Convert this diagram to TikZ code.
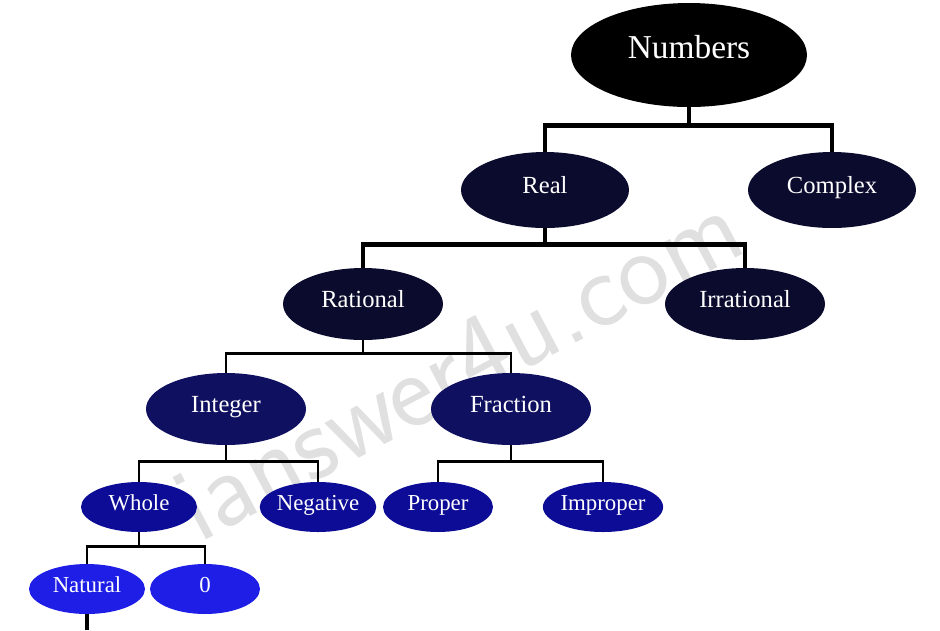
\documentclass[tikz,border=0pt]{standalone}
\usepackage{fontspec}
\setmainfont{Liberation Serif}
\usetikzlibrary{shapes.geometric}
\definecolor{topblack}{HTML}{000000}
\definecolor{darknavy}{HTML}{0B0B2E}
\definecolor{midnavy}{HTML}{101060}
\definecolor{deepblue}{HTML}{0C0C96}
\definecolor{brightblue}{HTML}{1E1EE6}
\tikzset{
  nd/.style={ellipse, inner sep=0pt, text=white, text height=1.4ex, text depth=0.5ex},
  link/.style={line width=2.5pt, draw=black},
  thinlink/.style={line width=1.5pt, draw=black}
}
\begin{document}
\begin{tikzpicture}[x=0.02cm,y=-0.02cm]
\useasboundingbox (0,0) rectangle (940,630);
\node[rotate=28, text=black!12, font=\sffamily\fontsize{62}{62}\selectfont] (mark) at (458,366) {ianswer4u.com};

\node[nd, fill=topblack, minimum width=4.72cm, minimum height=2.08cm, font=\fontsize{19}{21}\selectfont] (numbers) at (689,55) {Numbers};
\node[nd, fill=darknavy, minimum width=3.36cm, minimum height=1.52cm, font=\fontsize{14}{16}\selectfont] (real) at (545,190) {Real};
\node[nd, fill=darknavy, minimum width=3.36cm, minimum height=1.52cm, font=\fontsize{14}{16}\selectfont] (complex) at (832,190) {Complex};
\node[nd, fill=darknavy, minimum width=3.2cm, minimum height=1.44cm, font=\fontsize{14}{16}\selectfont] (rational) at (363,304) {Rational};
\node[nd, fill=darknavy, minimum width=3.2cm, minimum height=1.44cm, font=\fontsize{14}{16}\selectfont] (irrational) at (745,304) {Irrational};
\node[nd, fill=midnavy, minimum width=3.2cm, minimum height=1.44cm, font=\fontsize{14}{16}\selectfont] (integer) at (226,409) {Integer};
\node[nd, fill=midnavy, minimum width=3.2cm, minimum height=1.44cm, font=\fontsize{14}{16}\selectfont] (fraction) at (511,409) {Fraction};
\node[nd, fill=deepblue, minimum width=2.32cm, minimum height=1cm, font=\fontsize{13}{15}\selectfont] (whole) at (139,507) {Whole};
\node[nd, fill=deepblue, minimum width=2.28cm, minimum height=1cm, font=\fontsize{13}{15}\selectfont] (negative) at (318,507) {Negative};
\node[nd, fill=deepblue, minimum width=2.2cm, minimum height=1cm, font=\fontsize{13}{15}\selectfont] (proper) at (438,507) {Proper};
\node[nd, fill=deepblue, minimum width=2.32cm, minimum height=1cm, font=\fontsize{13}{15}\selectfont] (improper) at (603,507) {Improper};
\node[nd, fill=brightblue, minimum width=2.32cm, minimum height=1cm, font=\fontsize{13}{15}\selectfont] (natural) at (87,589) {Natural};
\node[nd, fill=brightblue, minimum width=2.2cm, minimum height=1cm, font=\fontsize{13}{15}\selectfont] (zero) at (205,589) {0};

\draw[link] (numbers.south) -- ++(0,19);
\draw[link] (real.north) -- ++(0,-26) -| (complex.north);
\draw[link] (real.south) -- ++(0,17);
\draw[link] (rational.north) -- ++(0,-23) -| (irrational.north);
\draw[thinlink] (rational.south) -- ++(0,14);
\draw[thinlink] (integer.north) -- ++(0,-19) -| (fraction.north);
\draw[thinlink] (integer.south) -- ++(0,17);
\draw[thinlink] (whole.north) -- ++(0,-20) -| (negative.north);
\draw[thinlink] (fraction.south) -- ++(0,17);
\draw[thinlink] (proper.north) -- ++(0,-20) -| (improper.north);
\draw[thinlink] (whole.south) -- ++(0,15);
\draw[thinlink] (natural.north) -- ++(0,-17) -| (zero.north);
\draw[link] (natural.south) -- ++(0,16);
\end{tikzpicture}
\end{document}
